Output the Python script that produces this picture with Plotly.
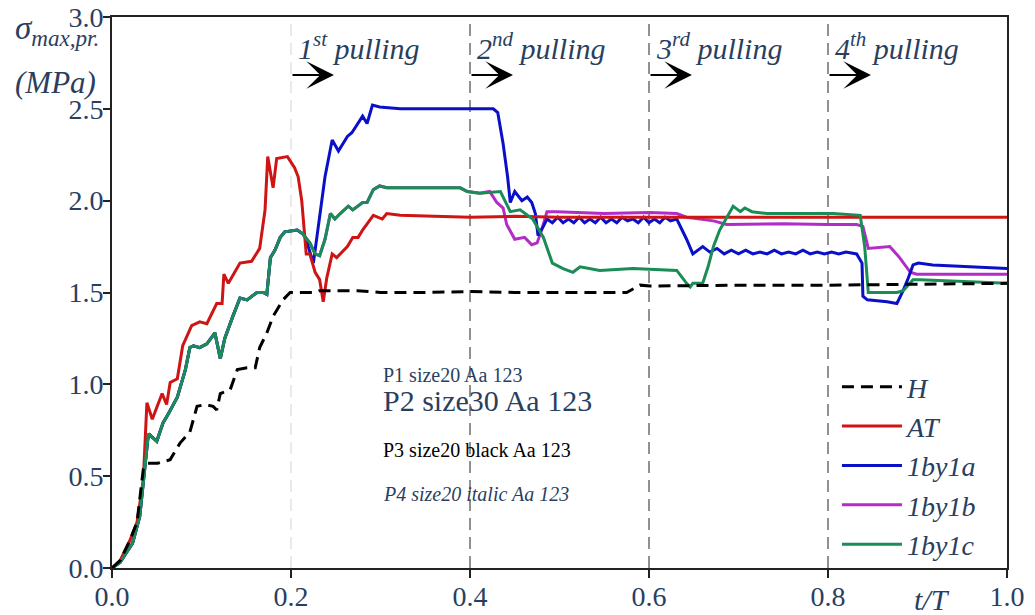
import plotly.graph_objects as go

# ---------------- data ----------------
t_H = [0, 0.009, 0.020, 0.028, 0.035, 0.040, 0.051, 0.065, 0.076, 0.087, 0.095, 0.104, 0.113, 0.117,
       0.121, 0.132, 0.140, 0.151, 0.160, 0.165, 0.173, 0.180, 0.191, 0.199, 0.227, 0.232, 0.274,
       0.30, 0.35, 0.40, 0.45, 0.50, 0.55, 0.575, 0.590, 0.601, 0.70, 0.80, 0.90, 1.0]
s_H = [0, 0.04, 0.15, 0.25, 0.54, 0.57, 0.57, 0.59, 0.68, 0.74, 0.88, 0.89, 0.88, 0.86,
       0.95, 0.97, 1.08, 1.09, 1.09, 1.20, 1.28, 1.37, 1.46, 1.50, 1.50, 1.51, 1.51,
       1.50, 1.50, 1.505, 1.50, 1.50, 1.50, 1.50, 1.54, 1.535, 1.54, 1.54, 1.545, 1.55]

t_AT = [0, 0.009, 0.020, 0.028, 0.035, 0.039, 0.045, 0.056, 0.061, 0.065, 0.073, 0.079, 0.089, 0.098,
        0.106, 0.117, 0.123, 0.125, 0.130, 0.143, 0.156, 0.165, 0.171, 0.174, 0.180, 0.184, 0.196,
        0.204, 0.208, 0.212, 0.217, 0.221, 0.227, 0.232, 0.236, 0.240, 0.246, 0.251, 0.263, 0.269,
        0.275, 0.280, 0.292, 0.302, 0.307, 0.322, 0.36, 0.40, 0.45, 0.50, 0.60, 0.70, 0.80, 0.90, 1.0]
s_AT = [0, 0.04, 0.15, 0.25, 0.48, 0.90, 0.81, 0.95, 0.89, 1.01, 1.03, 1.21, 1.32, 1.34,
        1.33, 1.44, 1.44, 1.60, 1.55, 1.66, 1.67, 1.74, 1.95, 2.24, 2.07, 2.23, 2.24,
        2.18, 2.13, 2.00, 1.71, 1.71, 1.61, 1.57, 1.45, 1.58, 1.71, 1.69, 1.75, 1.80,
        1.80, 1.84, 1.92, 1.90, 1.93, 1.92, 1.915, 1.91, 1.915, 1.91, 1.91, 1.91, 1.91, 1.91, 1.91]

t_1by1a = [0, 0.009, 0.023, 0.031, 0.040, 0.041, 0.050, 0.057, 0.063, 0.073, 0.082, 0.087, 0.091,
           0.098, 0.106, 0.115, 0.121, 0.126, 0.135, 0.143, 0.151, 0.162, 0.169, 0.173, 0.177,
           0.182, 0.188, 0.193, 0.207, 0.213,
           0.216, 0.225, 0.238, 0.246, 0.253, 0.263, 0.268, 0.272, 0.280, 0.285, 0.291, 0.299,
           0.322, 0.359, 0.426, 0.431, 0.437, 0.442, 0.445, 0.450, 0.458, 0.464, 0.469, 0.473,
           0.476, 0.482,
           0.486, 0.492, 0.498, 0.504, 0.510, 0.516, 0.522, 0.528, 0.534, 0.540, 0.546, 0.552,
           0.558, 0.564, 0.570, 0.576, 0.582, 0.588, 0.594, 0.600, 0.606, 0.612, 0.618, 0.624, 0.631,
           0.642, 0.649, 0.660,
           0.668, 0.676, 0.684, 0.692, 0.700, 0.708, 0.716, 0.724, 0.732, 0.740, 0.748, 0.756,
           0.764, 0.772, 0.780, 0.788, 0.796, 0.804, 0.812, 0.820, 0.832,
           0.838, 0.839, 0.844, 0.866, 0.877, 0.883, 0.889, 0.895, 0.901, 0.917, 1.0]
s_1by1a = [0, 0.03, 0.135, 0.28, 0.70, 0.73, 0.69, 0.79, 0.84, 0.93, 1.08, 1.20, 1.21,
           1.20, 1.22, 1.28, 1.14, 1.25, 1.37, 1.47, 1.46, 1.50, 1.50, 1.49, 1.69,
           1.73, 1.80, 1.83, 1.84, 1.82,
           1.80, 1.66, 2.13, 2.33, 2.27, 2.35, 2.37, 2.40, 2.46, 2.42, 2.52, 2.51,
           2.50, 2.50, 2.50, 2.48, 2.31, 2.13, 1.99, 2.05, 2.00, 2.02, 1.99, 1.93,
           1.81, 1.86,
           1.90, 1.88, 1.91, 1.88, 1.90, 1.88, 1.91, 1.88, 1.90, 1.88, 1.91, 1.88,
           1.90, 1.88, 1.91, 1.89, 1.90, 1.88, 1.91, 1.88, 1.90, 1.88, 1.91, 1.89, 1.90,
           1.79, 1.71, 1.75,
           1.72, 1.74, 1.71, 1.73, 1.71, 1.73, 1.71, 1.72, 1.71, 1.73, 1.71, 1.72,
           1.71, 1.73, 1.71, 1.72, 1.71, 1.72, 1.71, 1.72, 1.71,
           1.66, 1.48, 1.46, 1.45, 1.44, 1.50, 1.57, 1.65, 1.66, 1.65, 1.63]

t_1by1b = [0, 0.009, 0.023, 0.031, 0.040, 0.041, 0.050, 0.057, 0.063, 0.073, 0.082, 0.087, 0.091,
           0.098, 0.106, 0.115, 0.121, 0.126, 0.135, 0.143, 0.151, 0.162, 0.169, 0.173, 0.177,
           0.182, 0.188, 0.193, 0.207, 0.213, 0.221, 0.227, 0.232, 0.238, 0.244, 0.249, 0.255,
           0.264, 0.269, 0.280, 0.285, 0.292, 0.299, 0.307, 0.322, 0.359, 0.389, 0.397, 0.411,
           0.422, 0.430, 0.437, 0.441, 0.450, 0.461, 0.469, 0.475, 0.480, 0.486, 0.497, 0.55,
           0.60, 0.631, 0.642, 0.672, 0.687, 0.75, 0.80, 0.832, 0.839, 0.845, 0.869, 0.880,
           0.892, 0.899, 1.0]
s_1by1b = [0, 0.03, 0.135, 0.28, 0.70, 0.73, 0.69, 0.79, 0.84, 0.93, 1.08, 1.20, 1.21,
           1.20, 1.22, 1.28, 1.14, 1.25, 1.37, 1.47, 1.46, 1.50, 1.50, 1.49, 1.69,
           1.73, 1.80, 1.83, 1.84, 1.82, 1.77, 1.71, 1.70, 1.79, 1.93, 1.90, 1.93,
           1.97, 1.95, 1.99, 1.99, 2.06, 2.08, 2.07, 2.07, 2.07, 2.07, 2.05, 2.04,
           2.05, 1.99, 1.96, 1.87, 1.79, 1.80, 1.76, 1.77, 1.84, 1.94, 1.94, 1.93,
           1.935, 1.93, 1.91, 1.89, 1.87, 1.875, 1.87, 1.87, 1.86, 1.74, 1.75, 1.69,
           1.61, 1.60, 1.60]

t_1by1c = [0, 0.009, 0.023, 0.031, 0.040, 0.041, 0.050, 0.057, 0.063, 0.073, 0.082, 0.087, 0.091,
           0.098, 0.106, 0.115, 0.121, 0.126, 0.135, 0.143, 0.151, 0.162, 0.169, 0.173, 0.177,
           0.182, 0.188, 0.193, 0.207, 0.213, 0.221, 0.227, 0.232, 0.238, 0.244, 0.249, 0.255,
           0.264, 0.269, 0.280, 0.285, 0.292, 0.299, 0.307, 0.322, 0.359, 0.389, 0.397, 0.411,
           0.434, 0.445, 0.456, 0.470, 0.482, 0.492, 0.504, 0.515, 0.523, 0.545, 0.582, 0.631,
           0.642, 0.646, 0.649, 0.660, 0.666, 0.672, 0.679, 0.694, 0.702, 0.707, 0.715, 0.732,
           0.806, 0.836, 0.841, 0.845, 0.850, 0.877, 0.884, 0.895, 0.903, 1.0]
s_1by1c = [0, 0.03, 0.135, 0.28, 0.70, 0.73, 0.69, 0.79, 0.84, 0.93, 1.08, 1.20, 1.21,
           1.20, 1.22, 1.28, 1.14, 1.25, 1.37, 1.47, 1.46, 1.50, 1.50, 1.49, 1.69,
           1.73, 1.80, 1.83, 1.84, 1.82, 1.77, 1.71, 1.70, 1.79, 1.93, 1.90, 1.93,
           1.97, 1.95, 1.99, 1.99, 2.06, 2.08, 2.07, 2.07, 2.07, 2.07, 2.05, 2.04,
           2.05, 1.94, 1.95, 1.90, 1.80, 1.66, 1.63, 1.61, 1.64, 1.62, 1.63, 1.62,
           1.55, 1.53, 1.55, 1.55, 1.64, 1.75, 1.84, 1.97, 1.94, 1.96, 1.94, 1.93,
           1.93, 1.92, 1.75, 1.50, 1.50, 1.50, 1.51, 1.57, 1.57, 1.55]

pulling_starts = [0.2, 0.4, 0.6, 0.8]
pulling_labels = ["1<sup>st</sup> pulling", "2<sup>nd</sup> pulling",
                  "3<sup>rd</sup> pulling", "4<sup>th</sup> pulling"]
x_ticks = [0.0, 0.2, 0.4, 0.6, 0.8, 1.0]
y_ticks = [0.0, 0.5, 1.0, 1.5, 2.0, 2.5, 3.0]

# ---------------- figure ----------------
FONT = "Liberation Serif"
fig = go.Figure()

series = [
    ("1by1b", t_1by1b, s_1by1b, "#b32cc6", "solid", 4),
    ("1by1a", t_1by1a, s_1by1a, "#0a10c8", "solid", 3),
    ("AT", t_AT, s_AT, "#cf1414", "solid", 2),
    ("1by1c", t_1by1c, s_1by1c, "#1a8c55", "solid", 5),
    ("H", t_H, s_H, "#000000", "12px,7px", 1),
]
for name, tt, ss, col, dash, rank in series:
    fig.add_trace(go.Scatter(x=tt, y=ss, mode="lines", name="<i>" + name + "</i>",
                             legendrank=rank, line=dict(color=col, width=3, dash=dash)))

shapes = []
for i, xs in enumerate(pulling_starts):
    shapes.append(dict(type="line", xref="x", yref="paper", x0=xs, x1=xs, y0=0, y1=1,
                       line=dict(color="#d4d4d4" if i == 0 else "#222222", width=1,
                                 dash="12px,7px"), layer="below"))

annotations = []
for xs, lab in zip(pulling_starts, pulling_labels):
    annotations.append(dict(x=xs, y=2.84, xref="x", yref="y", text="<i>" + lab + "</i>",
                            showarrow=False, xanchor="left", yanchor="middle", xshift=5,
                            font=dict(family=FONT, size=30)))
    annotations.append(dict(x=xs + 0.048, y=2.684, ax=xs, ay=2.684, xref="x", yref="y",
                            axref="x", ayref="y", text="", showarrow=True, arrowhead=3,
                            arrowsize=2.3, arrowwidth=2, arrowcolor="black", standoff=0))

annotations.append(dict(x=-0.111, y=0.975, xref="paper", yref="paper", xanchor="left",
                        yanchor="middle", showarrow=False, text="<i>σ<sub>max,pr.</sub></i>",
                        font=dict(family=FONT, size=33)))
annotations.append(dict(x=-0.111, y=0.882, xref="paper", yref="paper", xanchor="left",
                        yanchor="middle", showarrow=False, text="<i>(MPa)</i>",
                        font=dict(family=FONT, size=31)))
annotations.append(dict(x=0.916, y=-0.058, xref="paper", yref="paper", xanchor="center",
                        yanchor="middle", showarrow=False, text="<i>t/T</i>",
                        font=dict(family=FONT, size=30)))
# temporary font probes
probes = [("P1 size20 Aa 123", 20, None, False), ("P2 size30 Aa 123", 30, None, False),
          ("P3 size20 black Aa 123", 20, "#000000", False), ("P4 size20 italic Aa 123", 20, None, True)]
for k, (txt, sz, colr, it) in enumerate(probes):
    fd = dict(family=FONT, size=sz)
    if colr:
        fd["color"] = colr
    annotations.append(dict(x=0.3, y=0.35 - 0.08 * k, xref="paper", yref="paper", xanchor="left",
                            showarrow=False, text=("<i>" + txt + "</i>") if it else txt, font=fd))

fig.update_layout(
    width=1035, height=615,
    margin=dict(l=112, r=28, t=17, b=47, autoexpand=False),
    paper_bgcolor="white", plot_bgcolor="white",
    showlegend=True,
    legend=dict(x=0.81, y=0.374, xanchor="left", yanchor="top", bgcolor="rgba(0,0,0,0)",
                font=dict(family=FONT, size=28),
                itemwidth=60, tracegroupgap=0),
    shapes=shapes, annotations=annotations,
)
fig.update_xaxes(range=[0, 1], tickvals=x_ticks, ticktext=[f"{v:.1f}" for v in x_ticks],
                 showgrid=False, zeroline=False, showline=True, linecolor="#222222",
                 linewidth=2, mirror=True, ticks="outside", ticklen=8, tickwidth=2,
                 tickcolor="#222222", automargin=False, ticklabelstandoff=-6,
                 tickfont=dict(family=FONT, size=28))
fig.update_yaxes(range=[0, 3], tickvals=y_ticks, ticktext=[f"{v:.1f}" for v in y_ticks],
                 showgrid=False, zeroline=False, showline=True, linecolor="#222222",
                 linewidth=2, mirror=True, ticks="outside", ticklen=7, tickwidth=2,
                 tickcolor="#222222", ticklabelstandoff=-6, automargin=False,
                 tickfont=dict(family=FONT, size=28))

fig.write_html("out.html")
